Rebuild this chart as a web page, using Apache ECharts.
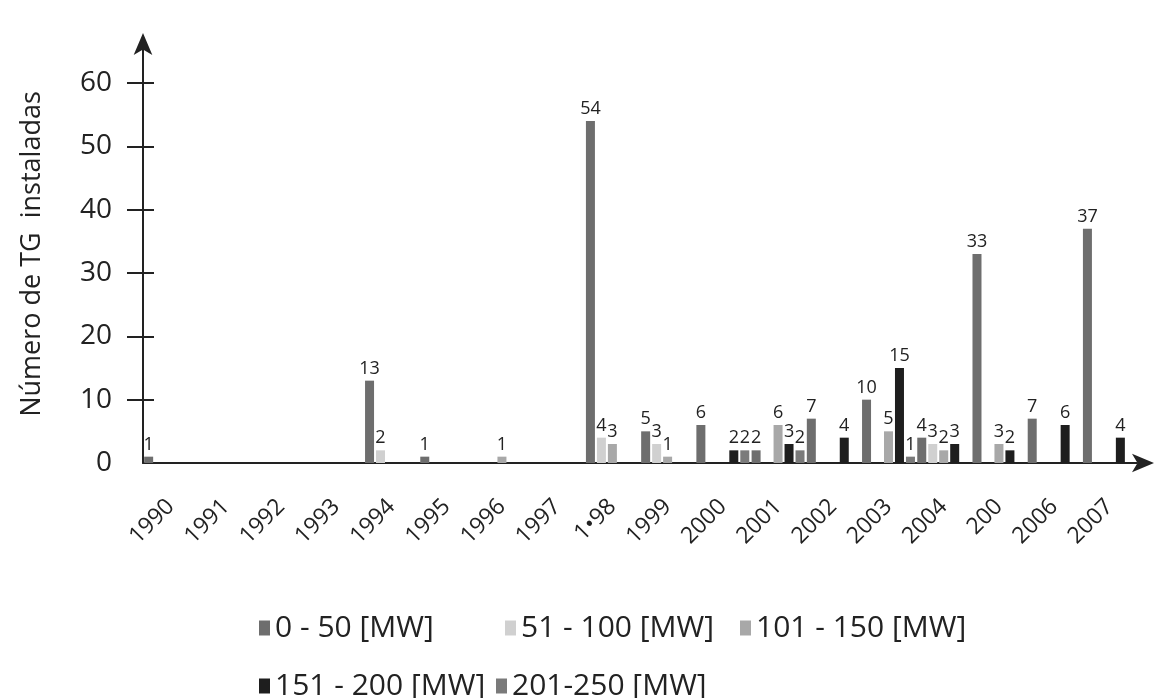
<!DOCTYPE html>
<html>
<head>
<meta charset="utf-8">
<script src="https://cdn.jsdelivr.net/npm/echarts@6/dist/echarts.min.js"></script>
<style>html,body{margin:0;padding:0;background:#fff}#c{width:1167px;height:698px}</style>
</head>
<body>
<div id="c"></div>
<script>
const years = ['1990','1991','1992','1993','1994','1995','1996','1997','1•98','1999','2000','2001','2002','2003','2004','200','2006','2007'];
const seriesNames = ['0 - 50 [MW]','51 - 100 [MW]','101 - 150 [MW]','151 - 200 [MW]','201-250 [MW]'];
const s0_50    = [1,null,null,null,13,1,null,null,54,5,6,2,7,10,4,33,7,37];
const s51_100  = [null,null,null,null,2,null,null,null,4,3,null,null,null,null,3,null,null,null];
const s101_150 = [null,null,null,null,null,null,1,null,3,1,null,6,null,5,2,3,null,null];
const s151_200 = [null,null,null,null,null,null,null,null,null,null,2,3,4,15,3,2,6,4];
const s201_250 = [null,null,null,null,null,null,null,null,null,null,2,2,null,1,null,null,null,null];
const yTicks = [0,10,20,30,40,50,60];

const values = [s0_50, s51_100, s101_150, s151_200, s201_250];
const colors = ['#6e6e6e','#d0d0d0','#a8a8a8','#1e1e1e','#7a7a7a'];
const font = '"Open Sans", "Noto Sans", sans-serif';

const chart = echarts.init(document.getElementById('c'), null, {renderer:'canvas'});

const legendPos = [[259,613],[505,613],[740,613],[259,671],[496,671]];

const option = {
  backgroundColor: '#ffffff',
  animation: false,
  textStyle: {fontFamily: font},
  grid: {left: 143, right: 30, top: 45, bottom: 235, containLabel: false},
  legend: seriesNames.map((n,i)=>({
    data:[n], left: legendPos[i][0], top: legendPos[i][1], icon:'rect',
    itemWidth: 11, itemHeight: 15, itemGap: 8, padding: 0,
    textStyle:{fontSize: 30, color:'#222', fontFamily: font}
  })),
  xAxis: {
    type: 'category', data: years,
    axisLine: {show:true, lineStyle:{color:'#222', width:2}, symbol:['none','arrow'], symbolSize:[14,22], symbolOffset:[0,17]},
    axisTick: {show:false},
    axisLabel: {rotate: 45, fontSize: 23, color:'#222', margin: 40, interval: 0}
  },
  yAxis: [{
    type: 'value', min: 0, max: 66, interval: 10,
    name: 'Número de TG  instaladas', nameLocation: 'middle', nameGap: 97, nameRotate: 90,
    nameTextStyle: {fontSize: 27, color:'#222'},
    axisLine: {show:true, lineStyle:{color:'#222', width:2}, symbol:['none','arrow'], symbolSize:[14,22], symbolOffset:[0,12]},
    axisTick: {show:true, length: 16, lineStyle:{color:'#222', width:2}, customValues: yTicks.slice(1)},
    axisLabel: {fontSize: 28, color:'#222', margin: 31, customValues: yTicks},
    splitLine: {show:false}
  },{
    type: 'value', min: 0, max: 66, interval: 10, position: 'left',
    axisLine: {show:false},
    axisTick: {show:true, inside:true, length: 11, lineStyle:{color:'#222', width:2}, customValues: yTicks.slice(1)},
    axisLabel: {show:false},
    splitLine: {show:false}
  }],
  series: values.map((v,i)=>({
    name: seriesNames[i], type:'bar', data: v, barWidth: 9, barGap: '22%',
    itemStyle: {color: colors[i]},
    label: {show:true, position:'top', distance: 3, fontSize: 18, color:'#222'}
  }))
};
chart.setOption(option);
</script>
</body>
</html>
